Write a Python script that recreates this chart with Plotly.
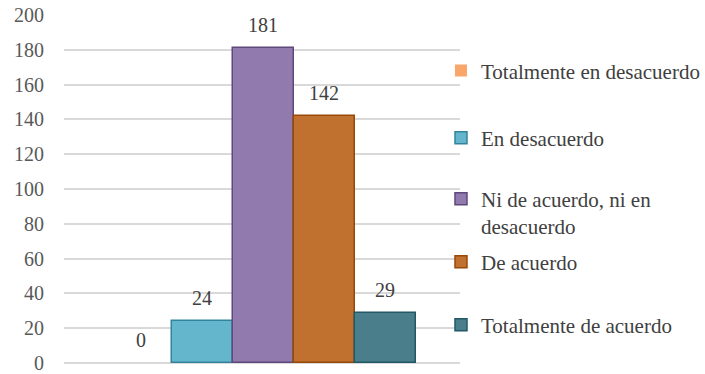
import plotly.graph_objects as go

# Survey response counts per answer option
categories = [
    "Totalmente en desacuerdo",
    "En desacuerdo",
    "Ni de acuerdo, ni en desacuerdo",
    "De acuerdo",
    "Totalmente de acuerdo",
]
legend_labels = [
    "Totalmente en desacuerdo",
    "En desacuerdo",
    "Ni de acuerdo, ni en<br>desacuerdo",
    "De acuerdo",
    "Totalmente de acuerdo",
]
counts = [0, 24, 181, 142, 29]
y_ticks = [0, 20, 40, 60, 80, 100, 120, 140, 160, 180, 200]

fill_colors = ["#F9A66B", "#64B6CC", "#917AAE", "#C0712F", "#4A7E8B"]
line_colors = ["#E46C0A", "#31849B", "#5F497A", "#984807", "#215967"]

FONT = "Liberation Serif"

# Legend slot centres (paper y) for each entry
legend_ids = ["legend", "legend2", "legend3", "legend4", "legend5"]
legend_y = [0.8397, 0.6461, 0.4325, 0.2902, 0.1086]

fig = go.Figure()
for i, (cat, lab, val) in enumerate(zip(categories, legend_labels, counts)):
    fig.add_trace(go.Bar(
        x=[cat],
        y=[val],
        name=lab,
        width=[1.0],
        marker=dict(color=fill_colors[i],
                    line=dict(color=line_colors[i], width=1.5 if val > 0 else 0)),
        legend=legend_ids[i],
        hoverinfo="skip",
    ))
    # value label above each bar
    fig.add_annotation(
        x=cat, y=val, text=str(val), showarrow=False,
        yshift=23, yanchor="middle", xanchor="center",
        font=dict(family=FONT, size=20, color="#404040"),
    )

layout_legends = {}
for lid, ly in zip(legend_ids, legend_y):
    layout_legends[lid] = dict(
        x=0.952, y=ly, xanchor="left", yanchor="middle",
        xref="paper", yref="paper",
        bgcolor="rgba(0,0,0,0)", borderwidth=0,
        valign="top",
        font=dict(family=FONT, size=21, color="#404040"),
    )

fig.update_layout(
    width=705, height=374,
    margin=dict(l=64, r=245, t=15, b=11, autoexpand=False),
    paper_bgcolor="white", plot_bgcolor="white",
    barmode="overlay",
    bargap=0,
    showlegend=True,
    xaxis=dict(
        range=[-1.27, 5.222],
        showticklabels=False, showgrid=False, zeroline=False,
        showline=False, ticks="", automargin=False,
    ),
    yaxis=dict(
        range=[0, 200], tickvals=y_ticks,
        showgrid=True, gridcolor="#D9D9D9", gridwidth=1.5,
        zeroline=True, zerolinecolor="#D9D9D9", zerolinewidth=1.5,
        showline=False, automargin=False,
        ticks="outside", ticklen=15, tickcolor="rgba(0,0,0,0)",
        ticklabeloverflow="allow",
        tickfont=dict(family=FONT, size=20, color="#595959"),
    ),
    **layout_legends,
)

fig.write_html("out.html")
